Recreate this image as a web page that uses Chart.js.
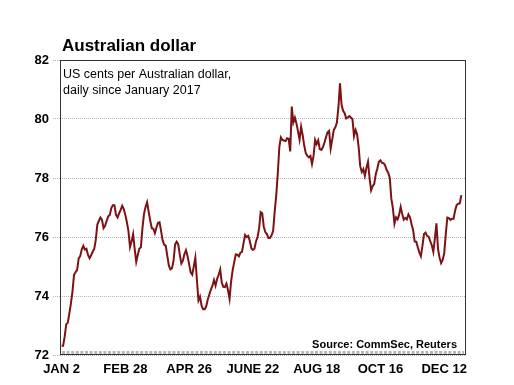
<!DOCTYPE html>
<html>
<head>
<meta charset="utf-8">
<script src="https://cdn.jsdelivr.net/npm/chart.js@4"></script>
<style>
html, body { margin: 0; padding: 0; background: #fff; }
</style>
</head>
<body>
<canvas id="myChart" width="514" height="385"></canvas>
<script>
// axis labels (trading-day index of each label)
const tickDays = [0, 41, 82, 123, 164, 205, 246];
const tickLabels = ['JAN 2', 'FEB 28', 'APR 26', 'JUNE 22', 'AUG 18', 'OCT 16', 'DEC 12'];
const yTicks = [72, 74, 76, 78, 80, 82];

// US cents per Australian dollar, one value per trading day of 2017
const audValues = [
  72.31, 72.31, 72.62, 73.04, 73.10, 73.40, 73.74, 74.14, 74.71, 74.81,
  74.88, 75.27, 75.35, 75.58, 75.70, 75.57, 75.60, 75.39, 75.28, 75.38,
  75.50, 75.60, 75.90, 76.42, 76.55, 76.66, 76.58, 76.30, 76.38, 76.55,
  76.70, 76.75, 76.98, 77.08, 77.08, 76.75, 76.66, 76.80, 76.92, 77.06,
  76.95, 76.75, 76.50, 76.20, 75.66, 75.85, 76.10, 75.60, 75.16, 75.40,
  75.60, 75.65, 76.30, 76.78, 77.02, 77.18, 76.85, 76.56, 76.30, 76.28,
  76.13, 76.32, 76.48, 76.50, 76.20, 75.88, 75.74, 75.70, 75.35, 75.03,
  74.90, 74.94, 75.20, 75.75, 75.84, 75.75, 75.40, 75.10, 75.20, 75.42,
  75.55, 75.35, 75.08, 74.80, 74.72, 75.00, 75.30, 74.55, 73.85, 73.98,
  73.67, 73.55, 73.55, 73.65, 73.88, 74.05, 74.22, 74.35, 74.54, 74.35,
  74.58, 74.72, 74.90, 74.45, 74.31, 74.30, 74.42, 74.20, 73.90, 74.50,
  74.88, 75.15, 75.41, 75.40, 75.34, 75.47, 75.50, 75.79, 76.07, 76.00,
  76.04, 75.87, 75.62, 75.56, 75.60, 75.85, 76.00, 76.30, 76.84, 76.80,
  76.35, 76.17, 76.10, 75.97, 75.97, 76.06, 76.20, 76.85, 77.40, 78.15,
  79.05, 79.38, 79.29, 79.27, 79.25, 79.35, 79.33, 78.90, 80.42, 79.88,
  80.05, 79.85, 79.58, 79.30, 79.74, 79.45, 79.10, 78.84, 78.75, 78.70,
  78.75, 78.47, 78.75, 79.29, 79.15, 79.28, 78.98, 78.95, 79.04, 79.20,
  79.38, 79.55, 79.60, 79.00, 79.30, 79.63, 79.72, 79.88, 80.40, 81.21,
  80.48, 80.28, 80.20, 80.02, 80.05, 80.10, 80.05, 80.00, 79.42, 79.63,
  79.48, 79.05, 78.40, 78.20, 78.30, 78.07, 78.35, 78.55, 78.00, 77.58,
  77.72, 77.80, 78.13, 78.32, 78.55, 78.60, 78.51, 78.50, 78.43, 78.27,
  78.18, 78.00, 77.30, 76.98, 76.45, 76.67, 76.60, 76.75, 77.02, 76.78,
  76.59, 76.65, 76.60, 76.77, 76.67, 76.43, 76.24, 75.85, 75.84, 75.65,
  75.48, 75.35, 75.70, 76.10, 76.15, 76.04, 76.01, 75.86, 75.72, 75.50,
  75.95, 76.46, 75.60, 75.30, 75.11, 75.22, 75.45, 76.10, 76.66, 76.64,
  76.58, 76.62, 76.62, 76.90, 77.08, 77.13, 77.14, 77.42
];

const FONT = '"Liberation Sans", Arial, sans-serif';
Chart.defaults.font.family = FONT;
Chart.defaults.color = '#000';

// box, bottom tick band and texts
const decor = {
  id: 'decor',
  beforeDatasetsDraw(chart) {
    const { ctx, chartArea: a } = chart;
    ctx.save();
    // daily tick band along the bottom
    ctx.strokeStyle = '#b8b8b8';
    ctx.lineWidth = 3;
    ctx.setLineDash([3, 1.6]);
    ctx.beginPath();
    ctx.moveTo(a.left + 2, a.bottom - 2.5);
    ctx.lineTo(a.right - 2, a.bottom - 2.5);
    ctx.stroke();
    ctx.setLineDash([]);
    // frame
    ctx.strokeStyle = '#333';
    ctx.lineWidth = 1;
    ctx.strokeRect(a.left + 0.5, a.top + 0.5, a.right - a.left - 1, a.bottom - a.top - 1);
    ctx.restore();
  },
  afterDraw(chart) {
    const { ctx, chartArea: a } = chart;
    ctx.save();
    ctx.fillStyle = '#000';
    ctx.textBaseline = 'alphabetic';
    ctx.textAlign = 'left';
    ctx.font = 'bold 17px ' + FONT;
    ctx.fillText('Australian dollar', 62, 51);
    ctx.font = '12.5px ' + FONT;
    ctx.fillText('US cents per Australian dollar,', a.left + 3, 78);
    ctx.fillText('daily since January 2017', a.left + 3, 94);
    ctx.textAlign = 'right';
    ctx.font = 'bold 11px ' + FONT;
    ctx.fillText('Source: CommSec, Reuters', 457, 348);
    ctx.restore();
  }
};

const ctx = document.getElementById('myChart').getContext('2d');
const myChart = new Chart(ctx, {
  type: 'line',
  data: {
    datasets: [{
      label: 'AUD',
      data: audValues.map((v, i) => ({ x: i, y: v })),
      borderColor: '#7d1214',
      borderWidth: 2,
      pointRadius: 0,
      tension: 0,
      fill: false
    }]
  },
  options: {
    responsive: false,
    animation: false,
    devicePixelRatio: 1,
    layout: { padding: { top: 60, right: 48, left: 0, bottom: 0 } },
    plugins: {
      legend: { display: false },
      tooltip: { enabled: false }
    },
    scales: {
      x: {
        type: 'linear',
        min: -1,
        max: 260,
        afterBuildTicks: (s) => { s.ticks = tickDays.map(v => ({ value: v })); },
        afterFit: (s) => { s.height = 30; },
        grid: { display: false },
        border: { display: false },
        ticks: {
          autoSkip: false,
          maxRotation: 0,
          padding: -1,
          font: { size: 13, weight: 'bold' },
          callback: (v) => tickLabels[tickDays.indexOf(v)]
        }
      },
      y: {
        min: yTicks[0],
        max: yTicks[yTicks.length - 1],
        afterBuildTicks: (s) => { s.ticks = yTicks.map(v => ({ value: v })); },
        afterFit: (s) => { s.width = 60; },
        grid: {
          color: '#b4b4b4',
          lineWidth: 1,
          tickLength: 7,
          tickBorderDash: [1, 1]
        },
        border: { display: false, dash: [1, 1] },
        ticks: {
          padding: 4,
          font: { size: 13, weight: 'bold' }
        }
      }
    }
  },
  plugins: [decor]
});
</script>
</body>
</html>
